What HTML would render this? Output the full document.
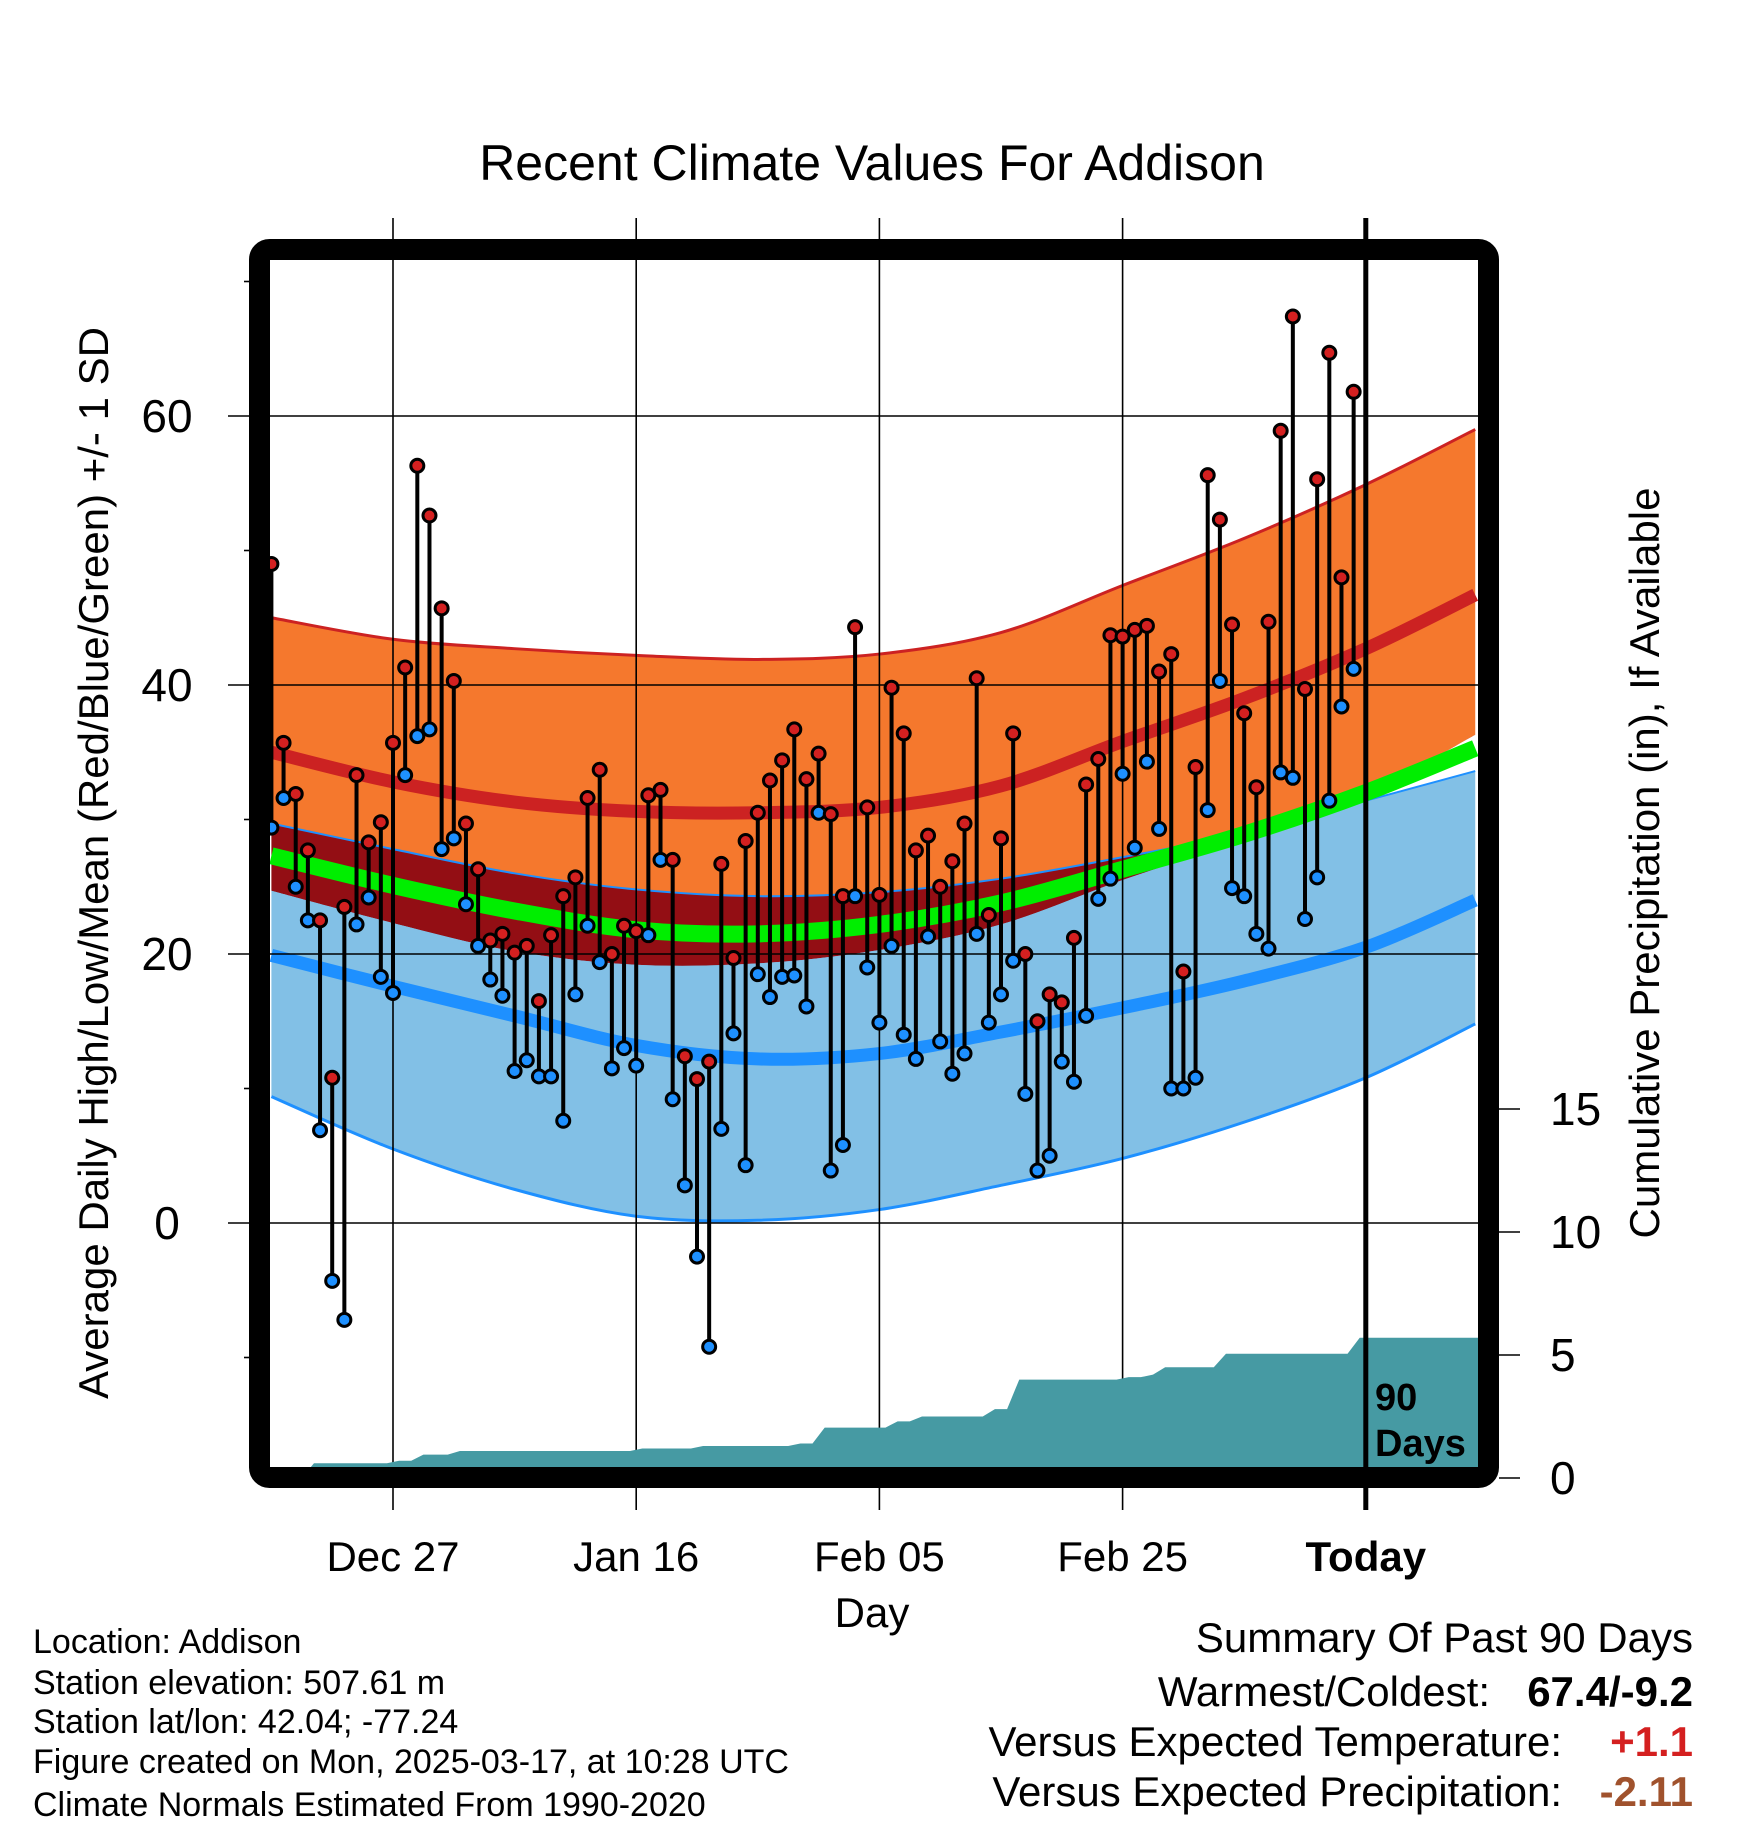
<!DOCTYPE html>
<html><head><meta charset="utf-8"><style>
body{margin:0;background:#fff}
svg{display:block;font-family:"Liberation Sans",sans-serif}
</style></head><body>
<svg id="chart" width="1748" height="1828" viewBox="0 0 1748 1828" xmlns="http://www.w3.org/2000/svg">
<g id="bands"></g>
<g id="grid"></g>
<g id="precip"></g>
<g id="obs"></g>
<g id="axes"></g>
<text x="872" y="180" font-size="50" text-anchor="middle">Recent Climate Values For Addison</text>
<text transform="translate(108,863) rotate(-90)" font-size="42" text-anchor="middle">Average Daily High/Low/Mean (Red/Blue/Green) +/- 1 SD</text>
<text transform="translate(1659,863) rotate(-90)" font-size="42" text-anchor="middle">Cumulative Precipitation (in), If Available</text>
<text x="872" y="1627" font-size="42" text-anchor="middle">Day</text>
<g font-size="34">
<text x="33" y="1653">Location: Addison</text>
<text x="33" y="1694">Station elevation: 507.61 m</text>
<text x="33" y="1733">Station lat/lon: 42.04; -77.24</text>
<text x="33" y="1773">Figure created on Mon, 2025-03-17, at 10:28 UTC</text>
<text x="33" y="1816">Climate Normals Estimated From 1990-2020</text>
</g>
<g font-size="42" text-anchor="end">
<text x="1693" y="1652">Summary Of Past 90 Days</text>
<text x="1490" y="1706">Warmest/Coldest:</text>
<text x="1693" y="1706" font-weight="bold">67.4/-9.2</text>
<text x="1562" y="1756">Versus Expected Temperature:</text>
<text x="1693" y="1756" font-weight="bold" fill="#d42020">+1.1</text>
<text x="1562" y="1806">Versus Expected Precipitation:</text>
<text x="1693" y="1806" font-weight="bold" fill="#a0522d">-2.11</text>
</g>
</svg>
<script>
// ---- data ----
const highs=[49.0,35.7,31.9,27.7,22.5,10.8,23.5,33.3,28.3,29.8,35.7,41.3,56.3,52.6,45.7,40.3,29.7,26.3,21.0,21.5,20.1,20.6,16.5,21.4,24.3,25.7,31.6,33.7,20.0,22.1,21.7,31.8,32.2,27.0,12.4,10.7,12.0,26.7,19.7,28.4,30.5,32.9,34.4,36.7,33.0,34.9,30.4,24.3,44.3,30.9,24.4,39.8,36.4,27.7,28.8,25.0,26.9,29.7,40.5,22.9,28.6,36.4,20.0,15.0,17.0,16.4,21.2,32.6,34.5,43.7,43.6,44.1,44.4,41.0,42.3,18.7,33.9,55.6,52.3,44.5,37.9,32.4,44.7,58.9,67.4,39.7,55.3,64.7,48.0,61.8];
const lows=[29.4,31.6,25.0,22.5,6.9,-4.3,-7.2,22.2,24.2,18.3,17.1,33.3,36.2,36.7,27.8,28.6,23.7,20.6,18.1,16.9,11.3,12.1,10.9,10.9,7.6,17.0,22.1,19.4,11.5,13.0,11.7,21.4,27.0,9.2,2.8,-2.5,-9.2,7.0,14.1,4.3,18.5,16.8,18.3,18.4,16.1,30.5,3.9,5.8,24.3,19.0,14.9,20.6,14.0,12.2,21.3,13.5,11.1,12.6,21.5,14.9,17.0,19.5,9.6,3.9,5.0,12.0,10.5,15.4,24.1,25.6,33.4,27.9,34.3,29.3,10.0,10.0,10.8,30.7,40.3,24.9,24.3,21.5,20.4,33.5,33.1,22.6,25.7,31.4,38.4,41.2];
const firstDay=-10; // days relative to Dec 27
const normDays=[-10,0,10,20,30,40,50,60,70,80,89];
const highPlusSD=[45.0,43.4,42.7,42.2,41.9,42.3,43.9,47.4,50.9,54.9,59.0];
const highMean=[35.0,32.8,31.3,30.6,30.5,30.9,32.5,35.8,39.0,42.7,46.7];
const highMinusSD=[24.7,22.3,20.2,19.2,19.3,20.3,22.2,25.5,28.5,31.9,36.3];
const meanTemp=[27.3,25.1,23.2,21.8,21.5,22.2,23.8,26.3,28.9,32.0,35.3];
const lowPlusSD=[29.7,27.8,26.0,24.8,24.3,24.6,25.6,27.2,29.0,31.4,33.6];
const lowMean=[19.9,17.6,15.4,13.2,12.2,12.6,14.2,16.0,18.0,20.5,24.0];
const lowMinusSD=[9.4,5.5,2.5,0.5,0.2,1.0,2.8,4.8,7.5,10.8,14.8];
const precipDays=[-7,0,2,5,20,25,33,35,41,43,49,51,60,62,63,68,79];
const precipVals=[0.6,0.7,0.95,1.1,1.2,1.3,1.4,2.05,2.3,2.5,2.8,4.0,4.1,4.2,4.5,5.05,5.7];
const xTickDays=[0,20,40,60,80];
const xTickLabels=["Dec 27","Jan 16","Feb 05","Feb 25","Today"];
const yTicks=[0,20,40,60];
const yMinor=[-10,10,30,50,70];
const pTicks=[0,5,10,15];

// ---- scales ----
const X0=270,X1=1478,Y0=260,Y1=1468;
const xS=d=>393+d*12.16;
const yS=v=>416+(60-v)*13.45;
const pS=p=>1478-p*24.6;
const NS="http://www.w3.org/2000/svg";
function mk(tag,attrs,parent){const e=document.createElementNS(NS,tag);for(const k in attrs)e.setAttribute(k,attrs[k]);parent.appendChild(e);return e;}
function smooth(xs,ys){
  const p=xs.map((x,i)=>[xS(x),yS(ys[i])]);let d="M"+p[0][0]+","+p[0][1];
  for(let i=0;i<p.length-1;i++){const a=p[Math.max(0,i-1)],b=p[i],c=p[i+1],e=p[Math.min(p.length-1,i+2)];
    d+=" C"+(b[0]+(c[0]-a[0])/6)+","+(b[1]+(c[1]-a[1])/6)+" "+(c[0]-(e[0]-b[0])/6)+","+(c[1]-(e[1]-b[1])/6)+" "+c[0]+","+c[1];}
  return d;}
function revPath(xs,ys){const rx=[...xs].reverse(),ry=[...ys].reverse();return smooth(rx,ry).replace(/^M/,"L");}
const bands=document.getElementById('bands');
const defs=mk('defs',{},bands);
const cp=mk('clipPath',{id:'plotclip'},defs);
mk('rect',{x:X0,y:Y0,width:X1-X0,height:Y1-Y0},cp);
const bg=mk('g',{'clip-path':'url(#plotclip)'},bands);
let e;
e=mk('path',{d:smooth(normDays,highPlusSD)+" "+revPath(normDays,highMinusSD)+"Z",fill:"#f5782d"},bg);

e=mk('path',{d:smooth(normDays,lowPlusSD)+" "+revPath(normDays,lowMinusSD)+"Z",fill:"#82c0e6"},bg);

const ov=mk('clipPath',{id:'ovclip'},defs);
mk('path',{d:smooth(normDays,highMinusSD)+" L"+xS(89)+",-1000 L"+xS(-10)+",-1000Z"},ov);
e=mk('path',{d:smooth(normDays,lowPlusSD)+" "+revPath(normDays,highMinusSD)+"Z",fill:"#930e14","clip-path":"url(#ovclip)"},bg);

e=mk('path',{d:smooth(normDays,highPlusSD),fill:"none",stroke:"#cc2222","stroke-width":3},bg);

e=mk('path',{d:smooth(normDays,lowPlusSD),fill:"none",stroke:"#1e90ff","stroke-width":2},bg);

e=mk('path',{d:smooth(normDays,lowMinusSD),fill:"none",stroke:"#1e90ff","stroke-width":3},bg);

e=mk('path',{d:smooth(normDays,meanTemp),fill:"none",stroke:"#00ee00","stroke-width":17},bg);

e=mk('path',{d:smooth(normDays,highMean),fill:"none",stroke:"#cc2222","stroke-width":13},bg);

e=mk('path',{d:smooth(normDays,lowMean),fill:"none",stroke:"#1e90ff","stroke-width":13},bg);


// grid
const grid=document.getElementById('grid');
yTicks.forEach(v=>{e=mk('line',{x1:228,x2:X1,y1:yS(v),y2:yS(v),stroke:"#000","stroke-width":1.6},grid);
 
 e=mk('text',{x:167,y:yS(v)+16,"font-size":46,"text-anchor":"middle"},grid);e.textContent=v;
 });
yMinor.forEach(v=>{e=mk('line',{x1:244,x2:252,y1:yS(v),y2:yS(v),stroke:"#000","stroke-width":1.6},grid);
 });
xTickDays.forEach((d,i)=>{const last=i===xTickDays.length-1;
 e=mk('line',{x1:xS(d),x2:xS(d),y1:218,y2:1510,stroke:"#000","stroke-width":last?5:1.6},last?document.getElementById('axes'):grid);
 
 e=mk('text',{x:xS(d),y:1571,"font-size":42,"text-anchor":"middle","font-weight":last?"bold":"normal"},grid);e.textContent=xTickLabels[i];
 });

// precip
const pr=document.getElementById('precip');
let pd="M"+xS(precipDays[0]-0.5)+","+Y1;
precipDays.forEach((d,i)=>{const prev=i?precipVals[i-1]:0;pd+=" L"+xS(d-0.5)+","+pS(prev)+" L"+xS(d+0.5)+","+pS(precipVals[i]);
 const nx=i<precipDays.length-1?precipDays[i+1]-0.5:89.5;pd+=" L"+xS(nx)+","+pS(precipVals[i]);});
pd+=" L"+xS(89.5)+","+Y1+"Z";
e=mk('path',{d:pd,fill:"#469aa3","clip-path":"url(#plotclip)"},pr);


// observations
const obs=document.getElementById('obs');
highs.forEach((h,i)=>{const x=xS(firstDay+i);
 e=mk('line',{x1:x,x2:x,y1:yS(h),y2:yS(lows[i]),stroke:"#000","stroke-width":4},obs);
 });
highs.forEach((h,i)=>{const x=xS(firstDay+i);
 e=mk('circle',{cx:x,cy:yS(lows[i]),r:6.5,fill:"#1e90ff",stroke:"#000","stroke-width":3},obs);
 
 e=mk('circle',{cx:x,cy:yS(h),r:6.5,fill:"#d42020",stroke:"#000","stroke-width":3},obs);
 });

// frame + right axis
const ax=document.getElementById('axes');
e=mk('rect',{x:259.5,y:249.5,width:1229,height:1228,rx:10,fill:"none",stroke:"#000","stroke-width":21},ax);

pTicks.forEach(p=>{e=mk('line',{x1:1499,x2:1520,y1:pS(p),y2:pS(p),stroke:"#000","stroke-width":1.6},ax);
 
 e=mk('text',{x:1550,y:pS(p)+16,"font-size":46},ax);e.textContent=p;
 });
e=mk('text',{x:1375,y:1410,"font-size":38,"font-weight":"bold"},ax);e.textContent="90";

e=mk('text',{x:1375,y:1456,"font-size":38,"font-weight":"bold"},ax);e.textContent="Days";

</script>
</body></html>
